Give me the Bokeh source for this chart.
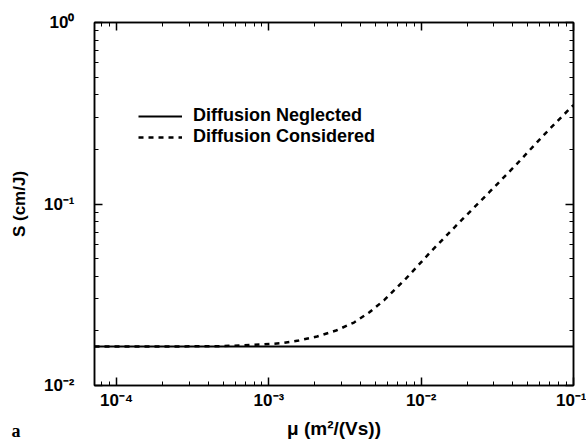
from bokeh.plotting import figure
from bokeh.models import (LogAxis, Legend, LegendItem, Range1d, Title,
                          FixedTicker, CustomJSTickFormatter)
from bokeh.embed import file_html
from bokeh.resources import INLINE

# ---------------- data ----------------
mu_neglected = [7.16e-5, 0.1]
s_neglected = [0.01641, 0.01641]

mu_considered = [7.16e-5, 2.5e-4, 5.0e-4, 9.0e-4, 1.2e-3, 1.57e-3, 2.07e-3,
                 2.76e-3, 3.62e-3, 4.55e-3, 5.71e-3, 7.96e-3, 1.18e-2,
                 1.86e-2, 2.80e-2, 4.22e-2, 6.25e-2, 7.73e-2, 0.1]
s_considered = [0.01641, 0.01641, 0.01648, 0.01683, 0.01710, 0.01770, 0.01862,
                0.02009, 0.02223, 0.02523, 0.02951, 0.03890, 0.05559,
                0.08222, 0.1161, 0.1652, 0.2355, 0.2831, 0.3508]

x_ticks = [1e-4, 1e-3, 1e-2, 1e-1]
x_tick_labels = ["10\u207b\u2074", "10\u207b\u00b3", "10\u207b\u00b2", "10\u207b\u00b9"]
y_ticks = [1e-2, 1e-1, 1e0]
y_tick_labels = ["10\u207b\u00b2", "10\u207b\u00b9", "10\u2070"]
minor_mult = [2, 3, 4, 5, 6, 7, 8, 9]
x_decades = [1e-5, 1e-4, 1e-3, 1e-2]
y_decades = [1e-2, 1e-1]

series_labels = ["Diffusion Neglected", "Diffusion Considered"]
x_title = "\u03bc (m\u00b2/(Vs))"
y_title = "S (cm/J)"
panel_tag = "a"

X_START, X_END = 7.16e-5, 0.1
Y_START, Y_END = 0.01, 1.0

# ---------------- styles ----------------
FONT = "Liberation Sans"
SERIF = "Liberation Serif"
FS = "17px"

p = figure(width=586, height=441, x_axis_type="log", y_axis_type="log",
           x_range=Range1d(X_START, X_END), y_range=Range1d(Y_START, Y_END),
           output_backend="svg", toolbar_location=None,
           min_border_left=94, min_border_right=13, min_border_top=22,
           min_border_bottom=56)
p.grid.visible = False
p.outline_line_color = "black"
p.outline_line_width = 1.5
p.background_fill_color = "white"
p.border_fill_color = "white"

p.add_layout(LogAxis(), "right")
p.add_layout(LogAxis(), "above")

x_minor = [m * d for d in x_decades for m in minor_mult]
y_minor = [m * d for d in y_decades for m in minor_mult]
xt = FixedTicker(ticks=x_ticks, minor_ticks=x_minor)
yt = FixedTicker(ticks=y_ticks, minor_ticks=y_minor)
empty = CustomJSTickFormatter(code="return ''")

for ax in p.axis:
    ax.axis_line_color = "black"
    ax.axis_line_width = 1.5
    ax.major_tick_in = 8
    ax.major_tick_out = 0
    ax.minor_tick_in = 4
    ax.minor_tick_out = 0
    ax.major_tick_line_width = 1.5
    ax.minor_tick_line_width = 1
    ax.major_label_text_font = FONT
    ax.major_label_text_font_style = "bold"
    ax.major_label_text_font_size = FS
    ax.major_label_text_color = "black"
    ax.axis_label_text_font = FONT
    ax.axis_label_text_font_style = "bold"
    ax.axis_label_text_font_size = FS
    ax.axis_label_text_color = "black"

for ax in p.above + p.below:
    if isinstance(ax, LogAxis):
        ax.ticker = xt
for ax in p.left + p.right:
    if isinstance(ax, LogAxis):
        ax.ticker = yt

p.above[0].formatter = empty
p.above[0].major_label_standoff = 0
p.right[0].formatter = empty
p.right[0].major_label_standoff = 0

xa = p.below[0]
xa.major_label_overrides = dict(zip(x_ticks, x_tick_labels))
xa.major_label_standoff = 5
xa.axis_label = x_title
xa.axis_label_standoff = 5
xa.axis_label_text_font_size = "19px"

ya = p.left[0]
ya.major_label_overrides = dict(zip(y_ticks, y_tick_labels))
ya.major_label_standoff = 20
ya.axis_label = y_title
ya.axis_label_standoff = 12

r1 = p.line(mu_neglected, s_neglected, line_color="black", line_width=2)
r2 = p.line(mu_considered, s_considered, line_color="black", line_width=2.5,
            line_dash="5 5")

legend = Legend(items=[LegendItem(label=series_labels[0], renderers=[r1]),
                       LegendItem(label=series_labels[1], renderers=[r2])],
                location=(44, 238), glyph_width=44, glyph_height=20,
                label_height=20, label_standoff=11, spacing=0, padding=0,
                margin=0, border_line_color=None, background_fill_alpha=0,
                label_text_font=FONT, label_text_font_style="bold",
                label_text_font_size="18px", label_text_color="black")
p.add_layout(legend)

# panel tag "a" at the lower-left corner, in the bottom side panel
tag = Title(text=panel_tag, align="left", offset=-83, vertical_align="top",
            standoff=-42, text_font=SERIF, text_font_style="bold",
            text_font_size="18px", text_color="black")
p.add_layout(tag, "below")

open("out.html", "w").write(file_html(p, INLINE))
